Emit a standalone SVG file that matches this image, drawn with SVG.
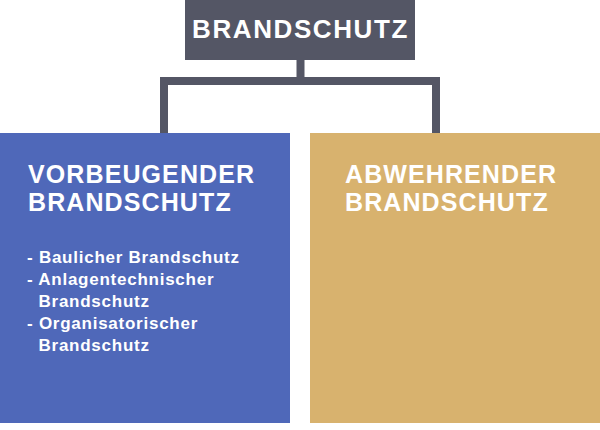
<svg xmlns="http://www.w3.org/2000/svg" width="600" height="430" viewBox="0 0 600 430">
<style>
text{font-family:"Liberation Sans",Arial,sans-serif;font-weight:bold;fill:#ffffff}
.t{font-size:25px;letter-spacing:1.1px}
.h{font-size:26px;letter-spacing:1.6px}
.b{font-size:17px;letter-spacing:0.75px}
.conn{fill:none;stroke:#545665;stroke-width:8}
</style>
<rect width="600" height="430" fill="#ffffff"/>
<g id="connectors">
<path class="conn" d="M300.5 60 V81 M164 133 V81 H436 V133"/>
</g>
<g id="root">
<rect x="185" y="0" width="230" height="60" fill="#545665"/>
<text class="h" x="300.5" y="38.3" text-anchor="middle">BRANDSCHUTZ</text>
</g>
<g id="vorbeugend">
<rect x="0" y="133" width="290" height="290" fill="#4f68b9"/>
<text class="t" x="28" y="183.3">VORBEUGENDER</text>
<text class="t" x="28" y="211">BRANDSCHUTZ</text>
<text class="b"><tspan x="27" y="262.7">- Baulicher Brandschutz</tspan><tspan x="27" y="285">- Anlagentechnischer</tspan><tspan x="38.5" y="306.7">Brandschutz</tspan><tspan x="27" y="329">- Organisatorischer</tspan><tspan x="38.5" y="350.5">Brandschutz</tspan></text>
</g>
<g id="abwehrend">
<rect x="310" y="133" width="290" height="290" fill="#d8b26e"/>
<text class="t" x="345" y="183.3">ABWEHRENDER</text>
<text class="t" x="345" y="211">BRANDSCHUTZ</text>
</g>
</svg>
